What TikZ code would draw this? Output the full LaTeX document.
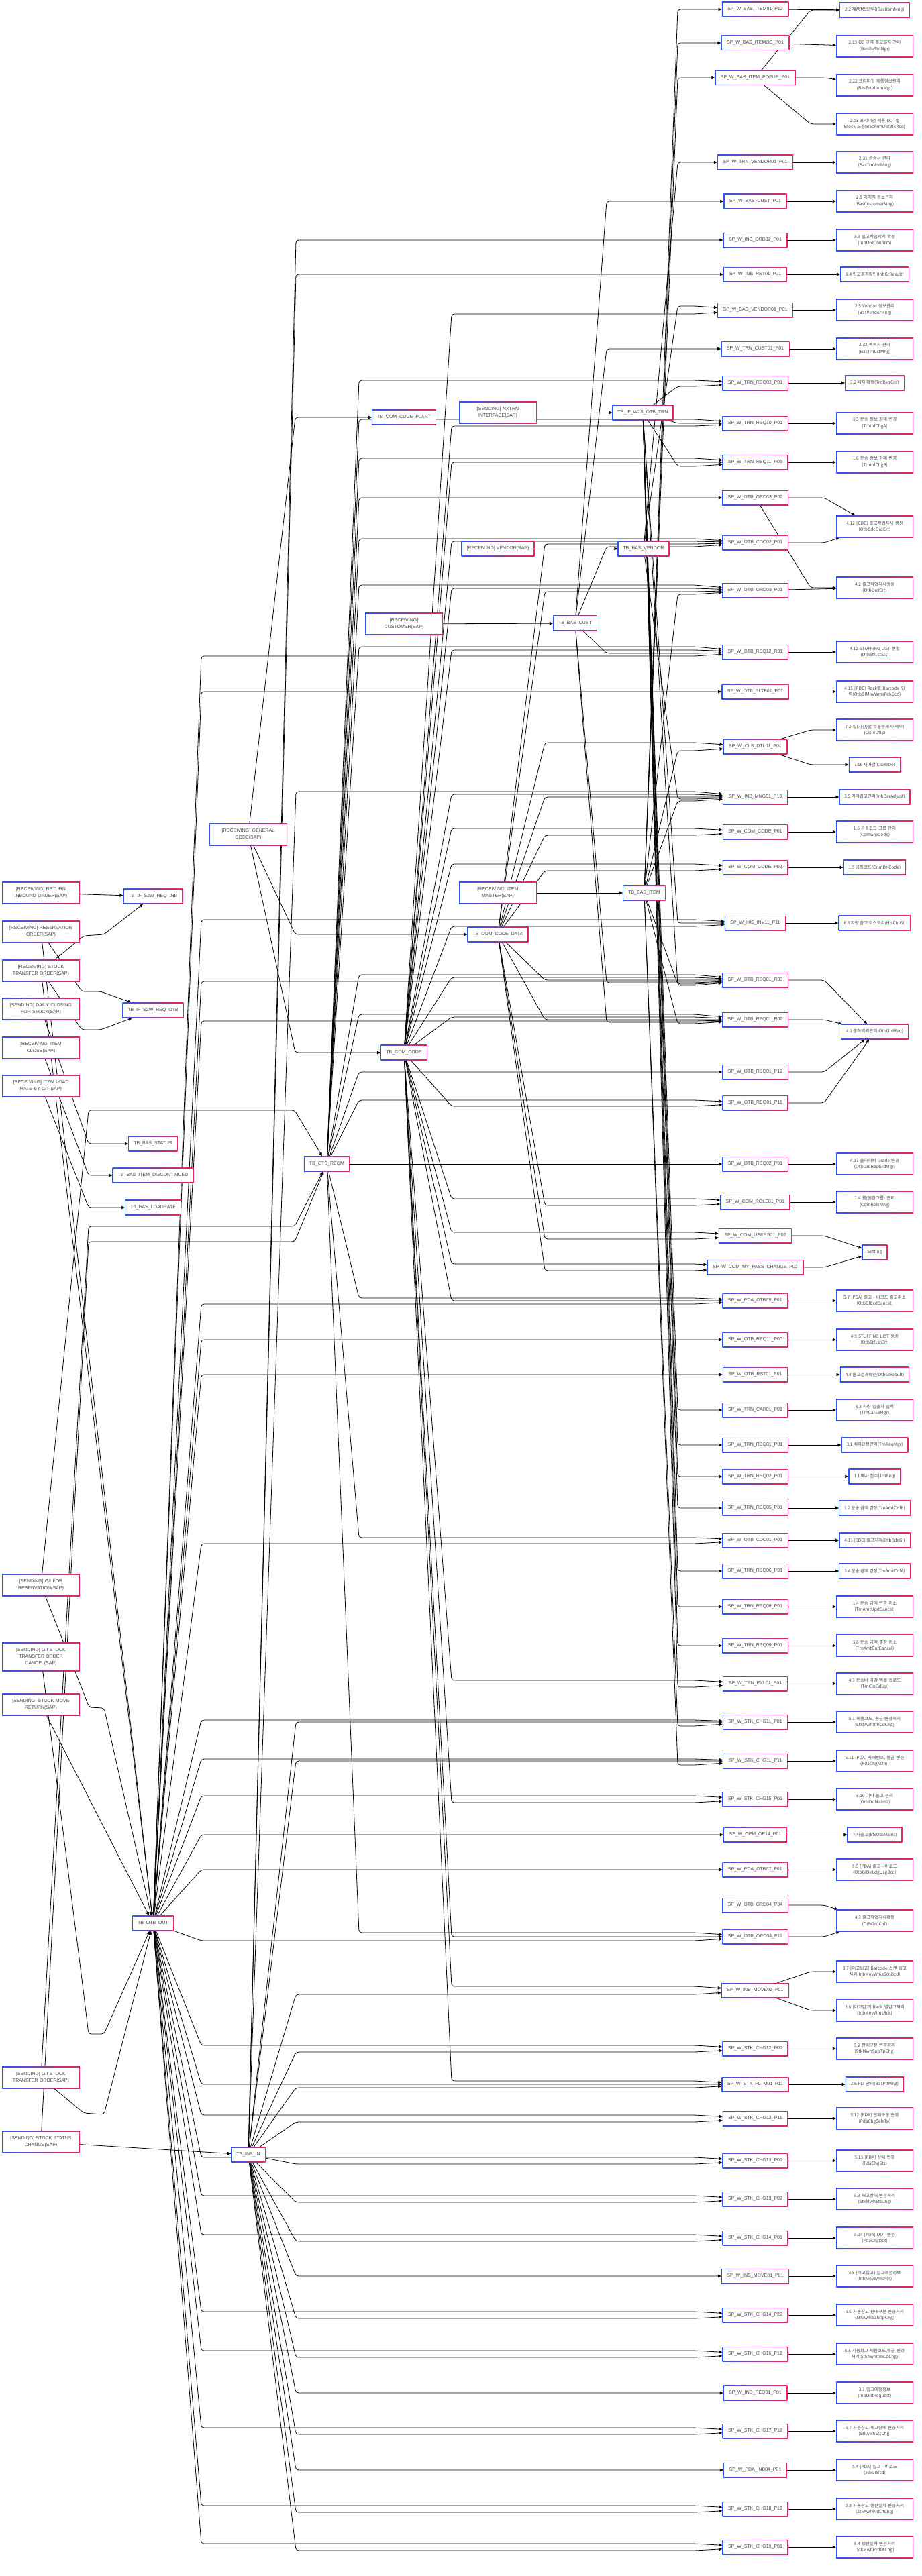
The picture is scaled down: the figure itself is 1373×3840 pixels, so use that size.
\documentclass[tikz,border=0pt]{standalone}
\usepackage{fontspec}
\setmainfont{Liberation Sans}
\newfontfamily\krfont{Noto Sans CJK KR}
\usetikzlibrary{arrows.meta,calc,backgrounds}

\definecolor{edgeblue}{RGB}{45,85,245}
\definecolor{edgered}{RGB}{240,35,95}
\definecolor{labelgray}{RGB}{70,70,70}

\tikzset{
	box/.style={left color=edgeblue, right color=edgered, text=labelgray,
		path picture={\fill[white] ([shift={(1.1pt,-1.1pt)}]path picture bounding box.north west)
			rectangle ([shift={(-1.1pt,1.1pt)}]path picture bounding box.south east);},
		font=\fontsize{7}{10}\selectfont, inner xsep=8pt, inner ysep=2pt, minimum height=23pt},
	iface/.style={box, text width=100pt, align=center, minimum height=33pt},
	spbox/.style={box, inner xsep=8.5pt, minimum height=22pt},
	screen/.style={box, font=\krfont\fontsize{6.5}{9.8}\selectfont},
	screentwo/.style={screen, text width=101pt, inner xsep=7pt, align=center, minimum height=33pt},
	link/.style={line width=0.8pt, rounded corners=4pt, -{Triangle[length=5pt,width=4.5pt]}}
}

\begin{document}
\begin{tikzpicture}[x=1pt, y=-1pt]
		\useasboundingbox (0,0) rectangle (1373,3840);

		% interfaces
		\node[iface] (retinb) at (61,1331) {[RECEIVING] RETURN\\INBOUND ORDER(SAP)};
		\node[iface] (resord) at (61,1389) {[RECEIVING] RESERVATION\\ORDER(SAP)};
		\node[iface] (stoord) at (61,1447) {[RECEIVING] STOCK\\TRANSFER ORDER(SAP)};
		\node[iface] (dayclose) at (61,1504) {[SENDING] DAILY CLOSING\\FOR STOCK(SAP)};
		\node[iface] (itemclose) at (61,1562) {[RECEIVING] ITEM\\CLOSE(SAP)};
		\node[iface] (loadrate) at (61,1619) {[RECEIVING] ITEM LOAD\\RATE BY C/T(SAP)};
		\node[iface] (gires) at (61,2363) {[SENDING] G/I FOR\\RESERVATION(SAP)};
		\node[iface, minimum height=43pt] (gicancel) at (61,2470) {[SENDING] G/I STOCK\\TRANSFER ORDER\\CANCEL(SAP)};
		\node[iface] (moveret) at (61,2541) {[SENDING] STOCK MOVE\\RETURN(SAP)};
		\node[iface] (gisto) at (61,3097) {[SENDING] G/I STOCK\\TRANSFER ORDER(SAP)};
		\node[iface] (stschg) at (61,3193) {[SENDING] STOCK STATUS\\CHANGE(SAP)};
		\node[iface] (gencode) at (370,1244) {[RECEIVING] GENERAL\\CODE(SAP)};
		\node[iface] (nxtrn) at (742,615) {[SENDING] NXTRN\\INTERFACE(SAP)};
		\node[box] (rcvvend) at (742,818) {[RECEIVING] VENDOR(SAP)};
		\node[iface] (rcvcust) at (602,930) {[RECEIVING]\\CUSTOMER(SAP)};
		\node[iface] (rcvitem) at (742,1331) {[RECEIVING] ITEM\\MASTER(SAP)};

		% tables
		\node[box] (tbreqinb) at (228,1336) {TB\_IF\_S2W\_REQ\_INB};
		\node[box] (tbreqotb) at (228,1506) {TB\_IF\_S2W\_REQ\_OTB};
		\node[box] (tbstat) at (228,1705) {TB\_BAS\_STATUS};
		\node[box] (tbdisc) at (228,1752) {TB\_BAS\_ITEM\_DISCONTINUED};
		\node[box] (tbload) at (228,1800) {TB\_BAS\_LOADRATE};
		\node[box] (tbout) at (228,2867) {TB\_OTB\_OUT};
		\node[box] (tbinb) at (370,3212) {TB\_INB\_IN};
		\node[box] (tbreqm) at (487,1735) {TB\_OTB\_REQM};
		\node[box] (tbcode) at (602,1569) {TB\_COM\_CODE};
		\node[box] (tbplant) at (602,622) {TB\_COM\_CODE\_PLANT};
		\node[box] (tbdata) at (742,1393) {TB\_COM\_CODE\_DATA};
		\node[box] (tbcust) at (857,929) {TB\_BAS\_CUST};
		\node[box] (tbvend) at (959,818) {TB\_BAS\_VENDOR};
		\node[box] (tbtrn) at (958,615) {TB\_IF\_W2S\_OTB\_TRN};
		\node[box] (tbitem) at (960,1331) {TB\_BAS\_ITEM};

		% procedures
		\foreach \nm/\yy/\lb in {item01p12/14/SP\_W\_BAS\_ITEM01\_P12, itemoe/64/SP\_W\_BAS\_ITEMOE\_P01,
			itempop/116/SP\_W\_BAS\_ITEM\_POPUP\_P01, trnvnd/242/SP\_W\_TRN\_VENDOR01\_P01,
			spcust/300/SP\_W\_BAS\_CUST\_P01, inbord/358/SP\_W\_INB\_ORD02\_P01,
			inbrst/409/SP\_W\_INB\_RST01\_P01, basvnd/462/SP\_W\_BAS\_VENDOR01\_P01,
			trncust/520/SP\_W\_TRN\_CUST01\_P01, trn03/571/SP\_W\_TRN\_REQ03\_P01,
			trn10/631/SP\_W\_TRN\_REQ10\_P01, trn11/689/SP\_W\_TRN\_REQ11\_P01,
			ord03p02/742/SP\_W\_OTB\_ORD03\_P02, cdc02/809/SP\_W\_OTB\_CDC02\_P01,
			ord03p01/880/SP\_W\_OTB\_ORD03\_P01, req12/972/SP\_W\_OTB\_REQ12\_R01,
			pltb/1031/SP\_W\_OTB\_PLTB01\_P01, clsdtl/1113/SP\_W\_CLS\_DTL01\_P01,
			inbmng/1188/SP\_W\_INB\_MNG01\_P13, code01/1240/SP\_W\_COM\_CODE\_P01,
			code02/1293/SP\_W\_COM\_CODE\_P02, hisinv/1376/SP\_W\_HIS\_INV11\_P11,
			r03/1461/SP\_W\_OTB\_REQ01\_R03, r02/1520/SP\_W\_OTB\_REQ01\_R02,
			p12/1598/SP\_W\_OTB\_REQ01\_P12, p11/1644/SP\_W\_OTB\_REQ01\_P11,
			req02/1735/SP\_W\_OTB\_REQ02\_P01, role/1792/SP\_W\_COM\_ROLE01\_P01,
			users/1842/SP\_W\_COM\_USERS01\_P02, mypass/1889/SP\_W\_COM\_MY\_PASS\_CHANGE\_P02,
			pda05/1939/SP\_W\_PDA\_OTB05\_P01, req11/1997/SP\_W\_OTB\_REQ11\_P00,
			otbrst/2049/SP\_W\_OTB\_RST01\_P01, car01/2102/SP\_W\_TRN\_CAR01\_P01,
			trn01/2154/SP\_W\_TRN\_REQ01\_P01, trn02/2201/SP\_W\_TRN\_REQ02\_P01,
			trn05/2248/SP\_W\_TRN\_REQ05\_P01, cdc01/2296/SP\_W\_OTB\_CDC01\_P01,
			trn06/2342/SP\_W\_TRN\_REQ06\_P01, trn08/2395/SP\_W\_TRN\_REQ08\_P01,
			trn09/2453/SP\_W\_TRN\_REQ09\_P01, exl01/2510/SP\_W\_TRN\_EXL01\_P01,
			chg11a/2567/SP\_W\_STK\_CHG11\_P01, chg11b/2625/SP\_W\_STK\_CHG11\_P11,
			chg15/2682/SP\_W\_STK\_CHG15\_P01, oem/2735/SP\_W\_OEM\_OE14\_P01,
			pda07/2787/SP\_W\_PDA\_OTB07\_P01, ord04a/2840/SP\_W\_OTB\_ORD04\_P04,
			ord04b/2887/SP\_W\_OTB\_ORD04\_P11, move02/2967/SP\_W\_INB\_MOVE02\_P01,
			chg12a/3054/SP\_W\_STK\_CHG12\_P01, pltm/3107/SP\_W\_STK\_PLTM01\_P11,
			chg12b/3158/SP\_W\_STK\_CHG12\_P11, chg13a/3221/SP\_W\_STK\_CHG13\_P01,
			chg13b/3278/SP\_W\_STK\_CHG13\_P02, chg14a/3336/SP\_W\_STK\_CHG14\_P01,
			move01/3393/SP\_W\_INB\_MOVE01\_P01, chg14b/3451/SP\_W\_STK\_CHG14\_P22,
			chg16/3509/SP\_W\_STK\_CHG16\_P12, inbreq/3567/SP\_W\_INB\_REQ01\_P01,
			chg17/3624/SP\_W\_STK\_CHG17\_P12, pdainb/3682/SP\_W\_PDA\_INB04\_P01,
			chg18/3740/SP\_W\_STK\_CHG18\_P12, chg19/3797/SP\_W\_STK\_CHG19\_P01}
			\node[spbox] (\nm) at (1125.5,\yy) {\lb};

		% screens
		\foreach \nm/\yy/\lb in {BasItemMng/15/{2.2 제품정보관리(BasItemMng)},
			InbGrResult/409/{3.4 입고결과확인(InbGrResult)}, TrnReqCnf/571/{3.2 배차 확정(TrnReqCnf)},
			ClsReDo/1140/{7.16 재마감(ClsReDo)}, InbBarAdjust/1188/{3.5 기타입고관리(InbBarAdjust)},
			ComDtlCode/1293/{1.5 공통코드(ComDtlCode)}, HisCtnGI/1376/{6.5 차량 출고 히스토리(HisCtnGI)},
			OtbOrdReq/1538/{4.1 출하의뢰관리(OtbOrdReq)}, Setting/1867/{Setting},
			OtbGIResult/2049/{4.4 출고결과확인(OtbGIResult)}, TrnReqMgr/2154/{3.1 배차요청관리(TrnReqMgr)},
			TrnReq/2201/{1.1 배차 접수(TrnReq)}, TrnAmtCnfB/2248/{1.2 운송 금액 결정(TrnAmtCnfB)},
			OtbCdcGI/2296/{4.13 [CDC] 출고처리(OtbCdcGI)}, TrnAmtCnfA/2342/{3.4 운송 금액 결정(TrnAmtCnfA)},
			EtcOtbMaint/2735/{기타출고(EtcOtbMaint)}, BasPltMng/3107/{2.6 PLT 관리(BasPltMng)}}
			\node[screen] (\nm) at (1303.5,\yy) {\lb};

		\foreach \nm/\yy/\lb in {BasOeStdMgr/69/{2.13 OE 규격 출고일자 관리\\(BasOeStdMgr)},
			BasPrmItemMgr/127/{2.22 프리미엄 제품정보관리\\(BasPrmItemMgr)},
			BasPrmDotBlkReq/185/{2.23 프리미엄 제품 DOT별\\Block 요청(BasPrmDotBlkReq)},
			BasTrnVndMng/242/{2.31 운송사 관리\\(BasTrnVndMng)},
			BasCustomerMng/300/{2.5 거래처 정보관리\\(BasCustomerMng)},
			InbOrdConfirm/358/{3.3 입고작업지시 확정\\(InbOrdConfirm)},
			BasVendorMng/462/{2.5 Vendor 정보관리\\(BasVendorMng)},
			BasTrnCstMng/520/{2.32 목적지 관리\\(BasTrnCstMng)},
			TrnInfChgA/631/{3.5 운송 정보 강제 변경\\(TrnInfChgA)},
			TrnInfChgB/689/{1.6 운송 정보 강제 변경\\(TrnInfChgB)},
			OtbCdcOrdCrt/785/{4.12 [CDC] 출고작업지시 생성\\(OtbCdcOrdCrt)},
			OtbOrdCrt/876/{4.2 출고작업지시생성\\(OtbOrdCrt)},
			OtbStfLstSts/972/{4.10 STUFFING LIST 현황\\(OtbStfLstSts)},
			OtbGIMovWmsRckBcd/1031/{4.15 [PDC] Rack별 Barcode 입\\력(OtbGIMovWmsRckBcd)},
			ClsIoDtl2/1088/{7.2 일(기간)별 수불명세서(세부)\\(ClsIoDtl2)},
			ComGrpCode/1240/{1.6 공통코드 그룹 관리\\(ComGrpCode)},
			OtbOrdReqGrdMgr/1735/{4.17 출하의뢰 Grade 변경\\(OtbOrdReqGrdMgr)},
			ComRoleMng/1792/{1.4 롤(권한그룹) 관리\\(ComRoleMng)},
			OtbGIBcdCancel/1939/{5.7 [PDA] 출고 - 바코드 출고취소\\(OtbGIBcdCancel)},
			OtbStfLstCrt/1997/{4.9 STUFFING LIST 생성\\(OtbStfLstCrt)},
			TrnCarEeMgr/2102/{3.3 차량 입출차 입력\\(TrnCarEeMgr)},
			TrnAmtUpdCancel/2395/{1.4 운송 금액 변경 취소\\(TrnAmtUpdCancel)},
			TrnAmtCnfCancel/2453/{3.6 운송 금액 결정 취소\\(TrnAmtCnfCancel)},
			TrnCloExlUp/2510/{4.3 운송비 마감 엑셀 업로드\\(TrnCloExlUp)},
			StkMwhItmCdChg/2567/{5.1 제품코드, 등급 변경처리\\(StkMwhItmCdChg)},
			PdaChgM2m/2625/{5.11 [PDA] 자재번호, 등급 변경\\(PdaChgM2m)},
			OtbEtcMaint2/2682/{5.10 기타 출고 관리\\(OtbEtcMaint2)},
			OtbGIDirLdgUsgBcd/2787/{5.9 [PDA] 출고 - 바코드\\(OtbGIDirLdgUsgBcd)},
			OtbOrdCnf/2863/{4.3 출고작업지시확정\\(OtbOrdCnf)},
			InbMovWmsScnBcd/2939/{3.7 [이고입고] Barcode 스캔 입고\\처리(InbMovWmsScnBcd)},
			InbMovWmsRck/2997/{3.8 [이고입고] Rack 별입고처리\\(InbMovWmsRck)},
			StkMwhSalsTpChg/3054/{5.2 판매구분 변경처리\\(StkMwhSalsTpChg)},
			PdaChgSalsTp/3158/{5.12 [PDA] 판매구분 변경\\(PdaChgSalsTp)},
			PdaChgSts/3221/{5.13 [PDA] 상태 변경\\(PdaChgSts)},
			StkMwhStsChg/3278/{5.3 재고상태 변경처리\\(StkMwhStsChg)},
			PdaChgDot/3336/{5.14 [PDA] DOT 변경\\(PdaChgDot)},
			InbMovWmsPln/3393/{3.6 [이고입고] 입고예정정보\\(InbMovWmsPln)},
			StkAwhSalsTpChg/3451/{5.6 자동창고 판매구분 변경처리\\(StkAwhSalsTpChg)},
			StkAwhItmCdChg/3509/{5.5 자동창고 제품코드,등급 변경\\처리(StkAwhItmCdChg)},
			InbOrdRequest/3567/{3.1 입고예정정보\\(InbOrdRequest)},
			StkAwhStsChg/3624/{5.7 자동창고 재고상태 변경처리\\(StkAwhStsChg)},
			InbGrBcd/3682/{5.4 [PDA] 입고 - 바코드\\(InbGrBcd)},
			StkAwhPrdDtChg/3740/{5.8 자동창고 생산일자 변경처리\\(StkAwhPrdDtChg)},
			StkMwhPrdDtChg/3797/{5.4 생산일자 변경처리\\(StkMwhPrdDtChg)}}
			\node[screentwo] (\nm) at (1303.5,\yy) {\lb};

		% bend columns
		\coordinate (kout) at (300,0);
		\coordinate (kinb) at (441,0);
		\coordinate (kreqm) at (535,0);
		\coordinate (kcode) at (673,0);
		\coordinate (kdata) at (812,0);
		\coordinate (kcust) at (904,0);
		\coordinate (kright) at (1010,0);
		\coordinate (kend) at (1035,0);
		\coordinate (ksplit) at (1208,0);
		\coordinate (kjoin) at (1228,0);

		\begin{scope}[on background layer]
		\fill[white] (0,0) rectangle (1373,3840);

		% interfaces into tables
		\draw[link] (retinb) -- (tbreqinb);
		\draw[link] (stoord) -- (125,1395) -- (155,1393) -- (tbreqinb);
		\draw[link] (resord) -- (122,1478) -- (150,1478) -- (tbreqotb);
		\draw[link] (stoord) -- (122,1535) -- (150,1535) -- (tbreqotb);
		\draw[link] (dayclose) -- (132,1705) -- (tbstat);
		\draw[link] (itemclose) -- (132,1752) -- (tbdisc);
		\draw[link] (loadrate) -- (132,1800) -- (tbload);
		\draw[link] (gires) -- (132,1655) -- (439,1655) -- (tbreqm);
		\draw[link] (gisto) -- (132,1828) -- (439,1828) -- (tbreqm);
		\draw[link] (stschg) -- (132,1851) -- (439,1851) -- (tbreqm);
		\draw[link] (resord) -- (tbout);
		\draw[link] (stoord) -- (tbout);
		\draw[link] (moveret) -- (tbout);
		\draw[link] (gires) -- (133,2545) -- (155,2546) -- (tbout);
		\draw[link] (gicancel) -- (122,2950) -- (132,3032) -- (155,3032) -- (tbout);
		\draw[link] (gisto) -- (125,3150) -- (155,3152) -- (tbout);
		\draw[link] (stschg) -- (tbinb);
		\draw[link] (gencode) -- (440,622) -- (tbplant);
		\draw[link] (gencode) -- (440,1393) -- (tbdata);
		\draw[link] (gencode) -- (440,1569) -- (tbcode);
		\draw[link] (nxtrn) -- (tbtrn);
		\draw[link] (rcvvend) -- (tbvend);
		\draw[link] (rcvcust) -- (tbcust);
		\draw[link] (rcvitem) -- (tbitem);

		% tables into procedures
		\foreach \tg/\of in {trn03/-4, trn10/-6, trn11/-6, ord03p02/0, cdc02/-6, ord03p01/-8, req12/-8,
			r03/-8, r02/-8, p12/0, p11/-4, req02/0, pda05/-4, cdc01/-4, ord04b/-6}
			\draw[link] (tbreqm) -- ($(kreqm |- \tg)+(0,\of)$) -- ($(kend |- \tg)+(0,\of)$) -- (\tg);
		\foreach \tg/\of in {basvnd/6, trn10/4, trn11/0, cdc02/-2, ord03p01/-3, req12/-3, inbmng/-4,
			code01/-5, code02/-5, hisinv/5, r03/-4, r02/-4, p11/5, role/-5, users/-5, mypass/-5,
			pda05/0, exl01/-5, chg15/5, ord04b/0, move02/-6, pltm/-5}
			\draw[link] (tbcode) -- ($(kcode |- \tg)+(0,\of)$) -- ($(kend |- \tg)+(0,\of)$) -- (\tg);
		\foreach \tg/\of in {cdc02/2, ord03p01/2, clsdtl/-6, inbmng/0, code01/5, code02/5, r03/0, r02/0,
			role/5, users/5, mypass/5}
			\draw[link] (tbdata) -- ($(kdata |- \tg)+(0,\of)$) -- ($(kend |- \tg)+(0,\of)$) -- (\tg);
		\foreach \tg/\of in {spcust/0, trncust/0, cdc02/6, req12/2, r03/4, r02/4}
			\draw[link] (tbcust) -- ($(kcust |- \tg)+(0,\of)$) -- ($(kend |- \tg)+(0,\of)$) -- (\tg);
		\foreach \tg/\of in {trnvnd/0, basvnd/-6, inbmng/3}
			\draw[link] (tbvend) -- ($(kright |- \tg)+(0,\of)$) -- ($(kend |- \tg)+(0,\of)$) -- (\tg);
		\foreach \tg/\of in {item01p12/0, itemoe/0, itempop/0, ord03p01/6, clsdtl/6, inbmng/6, r03/6,
			r02/6, chg11a/6, chg11b/6}
			\draw[link] (tbitem) -- ($(kright |- \tg)+(0,\of)$) -- ($(kend |- \tg)+(0,\of)$) -- (\tg);
		\foreach \tg/\of in {trn03/5, trn10/0, trn11/6, hisinv/0, r03/8, car01/0, trn01/0, trn02/0,
			trn05/0, trn06/0, trn08/0, trn09/0, exl01/5}
			\draw[link] (tbtrn) -- ($(kright |- \tg)+(0,\of)$) -- ($(kend |- \tg)+(0,\of)$) -- (\tg);
		\foreach \tg/\of in {req12/6, pltb/0, hisinv/-5, r03/2, r02/2, pda05/5, req11/0, otbrst/0,
			cdc01/5, chg11a/-3, chg11b/-3, chg15/-5, oem/0, pda07/0, ord04b/6, chg12a/-5, pltm/0,
			chg12b/-5, chg13a/-5, chg13b/-5, chg14a/-5, chg14b/-5, chg16/-5, chg17/-5, chg18/-5, chg19/-5}
			\draw[link] (tbout) -- ($(kout |- \tg)+(0,\of)$) -- ($(kend |- \tg)+(0,\of)$) -- (\tg);
		\foreach \tg/\of in {inbord/0, inbrst/0, inbmng/-8, chg11a/0, chg11b/0, move02/6, chg12a/5,
			pltm/5, chg12b/5, chg13a/5, chg13b/5, chg14a/5, move01/0, chg14b/5, chg16/5, inbreq/0,
			chg17/5, pdainb/0, chg18/5, chg19/5}
			\draw[link] (tbinb) -- ($(kinb |- \tg)+(0,\of)$) -- ($(kend |- \tg)+(0,\of)$) -- (\tg);

		% procedures into screens
		\foreach \nA/\nB in {item01p12/BasItemMng, itemoe/BasOeStdMgr, trnvnd/BasTrnVndMng,
			spcust/BasCustomerMng, inbord/InbOrdConfirm, inbrst/InbGrResult, basvnd/BasVendorMng,
			trncust/BasTrnCstMng, trn03/TrnReqCnf, trn10/TrnInfChgA, trn11/TrnInfChgB,
			ord03p01/OtbOrdCrt, req12/OtbStfLstSts, pltb/OtbGIMovWmsRckBcd, inbmng/InbBarAdjust,
			code01/ComGrpCode, code02/ComDtlCode, hisinv/HisCtnGI, req02/OtbOrdReqGrdMgr,
			role/ComRoleMng, pda05/OtbGIBcdCancel, req11/OtbStfLstCrt, otbrst/OtbGIResult,
			car01/TrnCarEeMgr, trn01/TrnReqMgr, trn02/TrnReq, trn05/TrnAmtCnfB, cdc01/OtbCdcGI,
			trn06/TrnAmtCnfA, trn08/TrnAmtUpdCancel, trn09/TrnAmtCnfCancel, exl01/TrnCloExlUp,
			chg11a/StkMwhItmCdChg, chg11b/PdaChgM2m, chg15/OtbEtcMaint2, oem/EtcOtbMaint,
			pda07/OtbGIDirLdgUsgBcd, chg12a/StkMwhSalsTpChg, pltm/BasPltMng, chg12b/PdaChgSalsTp,
			chg13a/PdaChgSts, chg13b/StkMwhStsChg, chg14a/PdaChgDot, move01/InbMovWmsPln,
			chg14b/StkAwhSalsTpChg, chg16/StkAwhItmCdChg, inbreq/InbOrdRequest, chg17/StkAwhStsChg,
			pdainb/InbGrBcd, chg18/StkAwhPrdDtChg, chg19/StkMwhPrdDtChg}
			\draw[link] (\nA) -- (\nB);
		\foreach \nA/\nB in {itempop/BasPrmItemMgr, ord03p02/OtbCdcOrdCrt, cdc02/OtbCdcOrdCrt,
			r03/OtbOrdReq, r02/OtbOrdReq, p12/OtbOrdReq, p11/OtbOrdReq, users/Setting, mypass/Setting,
			ord04a/OtbOrdCnf, ord04b/OtbOrdCnf}
			\draw[link] (\nA) -- (\nA -| kjoin) -- (\nB);
		\foreach \nA/\nB in {itempop/BasItemMng, itempop/BasPrmDotBlkReq, ord03p02/OtbOrdCrt,
			clsdtl/ClsIoDtl2, clsdtl/ClsReDo, move02/InbMovWmsScnBcd, move02/InbMovWmsRck}
			\draw[link] (\nA) -- (\nB -| ksplit) -- (\nB);
		\end{scope}
	\end{tikzpicture}
\end{document}
